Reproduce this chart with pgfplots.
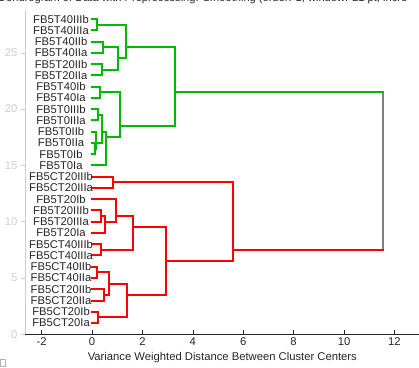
\documentclass[border=0pt]{standalone}
\usepackage{pgfplots}
\pgfplotsset{compat=1.18}
\usepackage{fontspec}
\setmainfont{Liberation Sans}
\usetikzlibrary{calc}
\definecolor{dgreen}{RGB}{0,185,0}
\definecolor{dred}{RGB}{255,0,0}
\definecolor{lgray}{RGB}{205,205,205}
\definecolor{axdark}{RGB}{38,38,38}
\definecolor{topgray}{RGB}{128,128,128}
\begin{document}
\begin{tikzpicture}
\begin{axis}[
  scale only axis, width=394.6pt, height=324.3pt,
  xmin=-2.66, xmax=13, ymin=0, ymax=28.8,
  axis x line*=bottom, axis y line*=left,
  x axis line style={draw=axdark, line width=0.6pt},
  y axis line style={draw=lgray, line width=0.6pt},
  xtick={-2,0,2,4,6,8,10,12}, ytick={0,5,10,15,20,25},
  xtick align=inside, ytick align=outside,
  major tick length=4pt,
  x tick style={draw=axdark, line width=0.5pt},
  y tick style={draw=lgray, line width=0.5pt},
  ticklabel style={font=\fontsize{11.25}{13}\selectfont},
  xticklabel style={text=axdark},
  yticklabel style={text=lgray},
  /pgf/number format/assume math mode=true,
  xlabel={Variance Weighted Distance Between Cluster Centers},
  xlabel style={font=\fontsize{11.25}{13}\selectfont, text=axdark},
  every axis plot/.append style={line width=2pt, line join=miter, line cap=rect},
  clip=false,
]
\coordinate (sw) at (rel axis cs:0,0);
% green cluster
\addplot[dgreen] coordinates {(0,28) (0.19,28) (0.19,27) (0,27)};
\addplot[dgreen] coordinates {(0,26) (0.45,26) (0.45,25) (0,25)};
\addplot[dgreen] coordinates {(0,24) (0.38,24) (0.38,23) (0,23)};
\addplot[dgreen] coordinates {(0.45,25.5) (1.04,25.5) (1.04,23.5) (0.38,23.5)};
\addplot[dgreen] coordinates {(0.19,27.5) (1.34,27.5) (1.34,24.5) (1.04,24.5)};
\addplot[dgreen] coordinates {(0,22) (0.33,22) (0.33,21) (0,21)};
\addplot[dgreen] coordinates {(0,20) (0.22,20) (0.22,19) (0,19)};
\addplot[dgreen] coordinates {(0,17) (0.12,17) (0.12,16) (0,16)};
\addplot[dgreen] coordinates {(0,18) (0.16,18) (0.16,16.5) (0.12,16.5)};
\addplot[dgreen] coordinates {(0.22,19.5) (0.38,19.5) (0.38,17) (0.16,17)};
\addplot[dgreen] coordinates {(0.38,18) (0.55,18) (0.55,15) (0,15)};
\addplot[dgreen] coordinates {(0.33,21.5) (1.1,21.5) (1.1,17.5) (0.55,17.5)};
\addplot[dgreen] coordinates {(1.34,25.5) (3.29,25.5) (3.29,18.5) (1.1,18.5)};
% red cluster
\addplot[dred] coordinates {(0,14) (0.85,14) (0.85,13) (0,13)};
\addplot[dred] coordinates {(0,11) (0.35,11) (0.35,10) (0,10)};
\addplot[dred] coordinates {(0.35,10.5) (0.52,10.5) (0.52,9) (0,9)};
\addplot[dred] coordinates {(0,12) (0.95,12) (0.95,10) (0.52,10)};
\addplot[dred] coordinates {(0,8) (0.35,8) (0.35,7) (0,7)};
\addplot[dred] coordinates {(0.95,10.5) (1.61,10.5) (1.61,7.5) (0.35,7.5)};
\addplot[dred] coordinates {(0,6) (0.19,6) (0.19,5) (0,5)};
\addplot[dred] coordinates {(0,4) (0.48,4) (0.48,3) (0,3)};
\addplot[dred] coordinates {(0.19,5.5) (0.67,5.5) (0.67,3.5) (0.48,3.5)};
\addplot[dred] coordinates {(0,2) (0.25,2) (0.25,1) (0,1)};
\addplot[dred] coordinates {(0.67,4.5) (1.38,4.5) (1.38,1.5) (0.25,1.5)};
\addplot[dred] coordinates {(1.61,9.5) (2.94,9.5) (2.94,3.5) (1.38,3.5)};
\addplot[dred] coordinates {(0.85,13.5) (5.58,13.5) (5.58,6.5) (2.94,6.5)};
% top link
\addplot[topgray] coordinates {(11.56,21.5) (11.56,7.5)};
\addplot[dgreen] coordinates {(3.29,21.5) (11.56,21.5)};
\addplot[dred] coordinates {(5.58,7.5) (11.56,7.5)};
% leaf labels
\begin{scope}[every node/.style={font=\fontsize{11.25}{13}\selectfont, text=axdark, anchor=center, inner sep=0pt}]
\node at (axis cs:-1.23,28) {FB5T40IIIb};
\node at (axis cs:-1.23,27) {FB5T40IIIa};
\node at (axis cs:-1.23,26) {FB5T40IIb};
\node at (axis cs:-1.23,25) {FB5T40IIa};
\node at (axis cs:-1.23,24) {FB5T20IIb};
\node at (axis cs:-1.23,23) {FB5T20IIa};
\node at (axis cs:-1.23,22) {FB5T40Ib};
\node at (axis cs:-1.23,21) {FB5T40Ia};
\node at (axis cs:-1.23,20) {FB5T0IIIb};
\node at (axis cs:-1.23,19) {FB5T0IIIa};
\node at (axis cs:-1.23,18) {FB5T0IIb};
\node at (axis cs:-1.23,17) {FB5T0IIa};
\node at (axis cs:-1.23,16) {FB5T0Ib};
\node at (axis cs:-1.23,15) {FB5T0Ia};
\node at (axis cs:-1.23,14) {FB5CT20IIIb};
\node at (axis cs:-1.23,13) {FB5CT20IIIa};
\node at (axis cs:-1.23,12) {FB5T20Ib};
\node at (axis cs:-1.23,11) {FB5T20IIIb};
\node at (axis cs:-1.23,10) {FB5T20IIIa};
\node at (axis cs:-1.23,9) {FB5T20Ia};
\node at (axis cs:-1.23,8) {FB5CT40IIIb};
\node at (axis cs:-1.23,7) {FB5CT40IIIa};
\node at (axis cs:-1.23,6) {FB5CT40IIb};
\node at (axis cs:-1.23,5) {FB5CT40IIa};
\node at (axis cs:-1.23,4) {FB5CT20IIb};
\node at (axis cs:-1.23,3) {FB5CT20IIa};
\node at (axis cs:-1.23,2) {FB5CT20Ib};
\node at (axis cs:-1.23,1) {FB5CT20Ia};
\end{scope}
\end{axis}
\node[anchor=base west, inner sep=0pt, font=\fontsize{11.1}{13}\selectfont, text=axdark] at ($(sw)+(-27pt,332.3pt)$) {Dendrogram of Data with Preprocessing: Smoothing (order: 1, window: 21 pt, incre};
\draw[gray!60, line width=0.5pt] ($(sw)+(-25pt,-24.7pt)$) rectangle ($(sw)+(-20pt,-31.7pt)$);
\pgfresetboundingbox
\path[use as bounding box] ($(sw)+(-25pt,-32.7pt)$) rectangle ($(sw)+(394pt,334.3pt)$);
\end{tikzpicture}
\end{document}
